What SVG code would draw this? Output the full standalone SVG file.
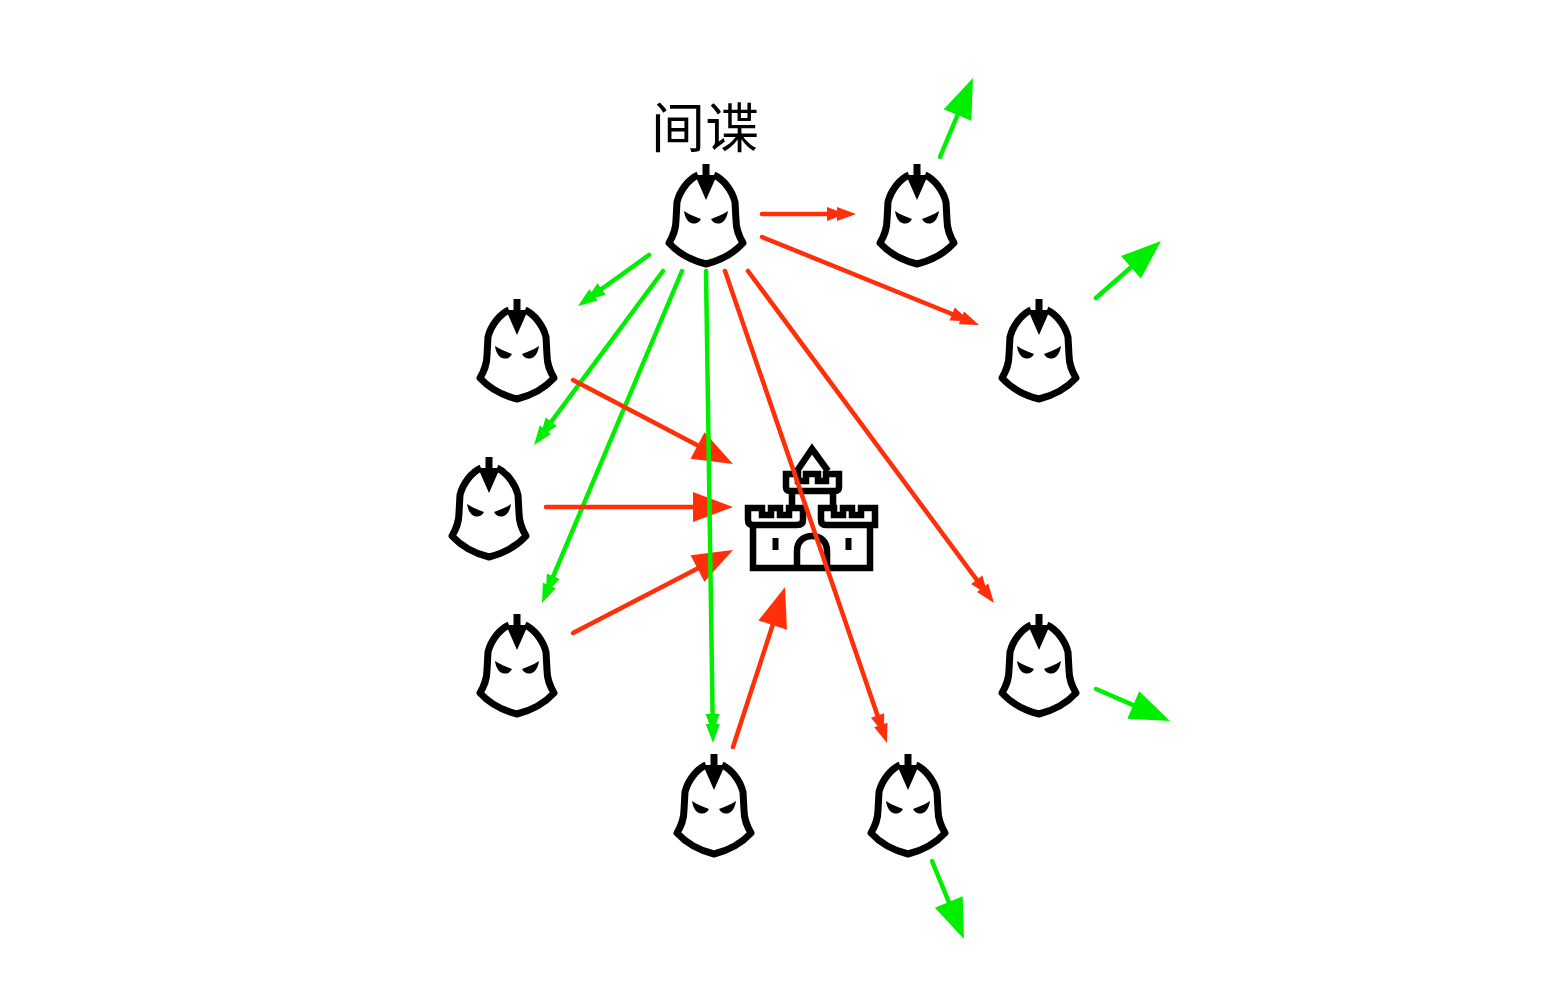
<svg xmlns="http://www.w3.org/2000/svg" width="1554" height="982" viewBox="0 0 1554 982">
<style>
.bg{fill:#fff}
.r{stroke:#ff2f0a;stroke-width:4.500;stroke-linecap:round;fill:none}
.g{stroke:#00ee00;stroke-width:4.500;stroke-linecap:round;fill:none}
.rs{marker-end:url(#rsm)}.gs{marker-end:url(#gsm)}.rb{marker-end:url(#rbm)}.gb{marker-end:url(#gbm)}
.o{fill:none;stroke:#000;stroke-width:7;stroke-linejoin:round}
.c{fill:none;stroke:#000;stroke-width:6.500;stroke-linejoin:miter}
.ink{fill:#000}
text{font-family:"Noto Sans CJK SC","Noto Sans",sans-serif;font-size:54px;font-weight:400;fill:#000}
</style>
<defs>
<marker id="rsm" markerUnits="userSpaceOnUse" markerWidth="32" markerHeight="20" refX="22" refY="10" orient="auto"><path fill="#ff2f0a" d="M1 3L20 10L1 17ZM11 3L30 10L11 17Z"/></marker>
<marker id="gsm" markerUnits="userSpaceOnUse" markerWidth="32" markerHeight="20" refX="22" refY="10" orient="auto"><path fill="#00ee00" d="M1 3L20 10L1 17ZM11 3L30 10L11 17Z"/></marker>
<marker id="rbm" markerUnits="userSpaceOnUse" markerWidth="44" markerHeight="32" refX="26" refY="16" orient="auto"><path fill="#ff2f0a" d="M2 1L42 16L2 31Z"/></marker>
<marker id="gbm" markerUnits="userSpaceOnUse" markerWidth="44" markerHeight="32" refX="26" refY="16" orient="auto"><path fill="#00ee00" d="M2 1L42 16L2 31Z"/></marker>
<g id="helmet">
<path class="o" d="M-8 11C-17 15-26 26-29 38L-30 56C-30 66-33 72-37 79C-27 90-12 97 0 100C12 97 27 90 37 79C33 72 30 66 30 56L29 38C26 26 17 15 8 11"/>
<path class="ink" d="M-3.500 0H3.500V11L11 11L0 36L-11 11L-3.500 11Z"/>
<path class="ink" d="M-22 47C-16 51-10 53-5 55C-8 60-11 60-15 59C-19 57-21 53-22 47Z"/>
<path class="ink" d="M22 47C16 51 10 53 5 55C8 60 11 60 15 59C19 57 21 53 22 47Z"/>
</g>
</defs>
<rect class="bg" width="1554" height="982"/>
<g id="castle">
<path class="c" d="M797 471L812 449L828 471"/>
<path class="c" d="M786 474H798V481H806V474H818V481H826V474H839V487Q839 491 835 491H790Q786 491 786 487Z"/>
<path class="c" d="M792 491V508M833 491V508"/>
<path class="c" d="M748 508H762V515H771V508H780V515H789V508H803V520Q803 525 797 525H753Q748 525 748 520Z"/>
<path class="c" d="M821 508H834V515H843V508H852V515H861V508H875V525H826Q821 525 821 520Z"/>
<path class="c" d="M753 525V568H870V525"/>
<path class="c" d="M797 568V551C797 541 804 536 812 536C820 536 827 541 827 551V568"/>
<path class="ink" d="M772.500 538H778.500V550H772.500ZM845.500 538H851.500V550H845.500Z"/>
</g>
<g id="connectors">
<path class="g gs" d="M649 255L584.500 301.300"/>
<path class="g gs" d="M663 271L538.800 438.600"/>
<path class="g gs" d="M682 271L545.100 595.600"/>
<path class="r rs" d="M762 214L848 214"/>
<path class="r rs" d="M762 237L971.600 322"/>
<path class="r rs" d="M725 271L884.400 735.400"/>
<path class="r rs" d="M748 271L989.200 596.600"/>
<path class="r rb" d="M573 380L718.800 456.600"/>
<path class="r rb" d="M546 507L717 507"/>
<path class="r rb" d="M573 633L718.800 557.400"/>
<path class="r rb" d="M733 747L780.100 602.200"/>
<path class="g gs" d="M706 271L712.900 735"/>
<path class="g gb" d="M940 157L966.800 92.800"/>
<path class="g gb" d="M1096 298L1149 251.500"/>
<path class="g gb" d="M1096 689L1155.300 714.600"/>
<path class="g gb" d="M932 861L957.900 924.200"/>
</g>
<g id="label"><text x="705" y="148" text-anchor="middle">间谍</text></g>
<g id="spy"><use href="#helmet" x="706" y="164"/></g>
<g id="h1"><use href="#helmet" x="917" y="164"/></g>
<g id="h2"><use href="#helmet" x="1039" y="299"/></g>
<g id="h3"><use href="#helmet" x="517" y="299"/></g>
<g id="h4"><use href="#helmet" x="489" y="457"/></g>
<g id="h5"><use href="#helmet" x="517" y="614"/></g>
<g id="h6"><use href="#helmet" x="1039" y="614"/></g>
<g id="h7"><use href="#helmet" x="714" y="754"/></g>
<g id="h8"><use href="#helmet" x="908" y="754"/></g>
</svg>
